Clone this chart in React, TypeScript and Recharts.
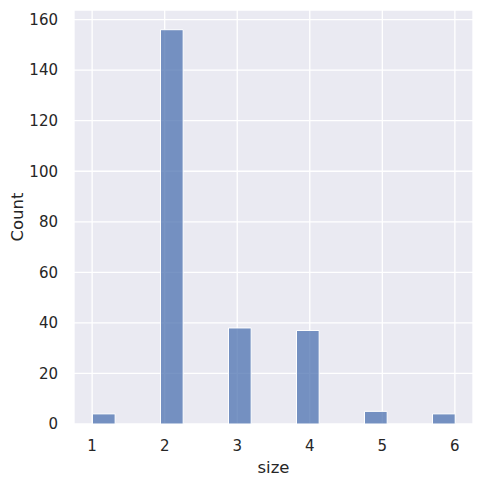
import React from 'react';
import {
  ComposedChart,
  Bar,
  XAxis,
  YAxis,
  CartesianGrid,
  Label,
} from 'recharts';

// tips dataset: party size histogram (16 auto bins over [1, 6])
const sizes = [1, 2, 3, 4, 5, 6];
const counts = [4, 156, 38, 37, 5, 4];
const xTicks = [1, 2, 3, 4, 5, 6];
const yTicks = [0, 20, 40, 60, 80, 100, 120, 140, 160];

const BIN_COUNT = 16;
const lo = Math.min(...sizes);
const hi = Math.max(...sizes);
const binWidth = (hi - lo) / BIN_COUNT;

// put each value into its histogram bin, keep the bin centre as x
const chartData = sizes.map((s, i) => {
  const idx = Math.min(Math.floor((s - lo) / binWidth), BIN_COUNT - 1);
  return { x: lo + (idx + 0.5) * binWidth, count: counts[i] };
});

const W = 484;
const H = 484;
const margin = { top: 10, right: 11, bottom: 0, left: 0 };
const yAxisWidth = 74;
const xAxisHeight = 60;
const xDomain: [number, number] = [0.75, 6.25];
const plotW = W - margin.left - margin.right - yAxisWidth;
const barPx = (binWidth / (xDomain[1] - xDomain[0])) * plotW;

const textColor = '#262626';
const font = 'DejaVu Sans, sans-serif';

export default function App() {
  return (
    <div style={{ position: 'absolute', left: 0, top: 0, width: W, height: H, background: '#fff' }}>
      <ComposedChart width={W} height={H} data={chartData} margin={margin}>
        <CartesianGrid fill="#EAEAF2" stroke="#ffffff" strokeWidth={1.3} />
        <XAxis
          dataKey="x"
          type="number"
          domain={xDomain}
          ticks={xTicks}
          height={xAxisHeight}
          axisLine={false}
          tickLine={false}
          tickSize={0}
          tickMargin={16}
          tick={{ fontSize: 15, fill: textColor, fontFamily: font }}
        >
          <Label
            value="size"
            position="insideBottom"
            offset={11}
            style={{ fontSize: 16.5, fill: textColor, fontFamily: font }}
          />
        </XAxis>
        <YAxis
          type="number"
          domain={[0, 163.8]}
          ticks={yTicks}
          width={yAxisWidth}
          axisLine={false}
          tickLine={false}
          tickSize={0}
          tickMargin={16}
          tick={{ fontSize: 15, fill: textColor, fontFamily: font }}
        >
          <Label
            value="Count"
            angle={-90}
            position="insideLeft"
            offset={17}
            style={{ fontSize: 16.5, fill: textColor, fontFamily: font, textAnchor: 'middle' }}
          />
        </YAxis>
        <Bar
          dataKey="count"
          barSize={barPx}
          fill="#4C72B0"
          fillOpacity={0.75}
          stroke="#ffffff"
          strokeWidth={1}
          isAnimationActive={false}
        />
      </ComposedChart>
    </div>
  );
}
